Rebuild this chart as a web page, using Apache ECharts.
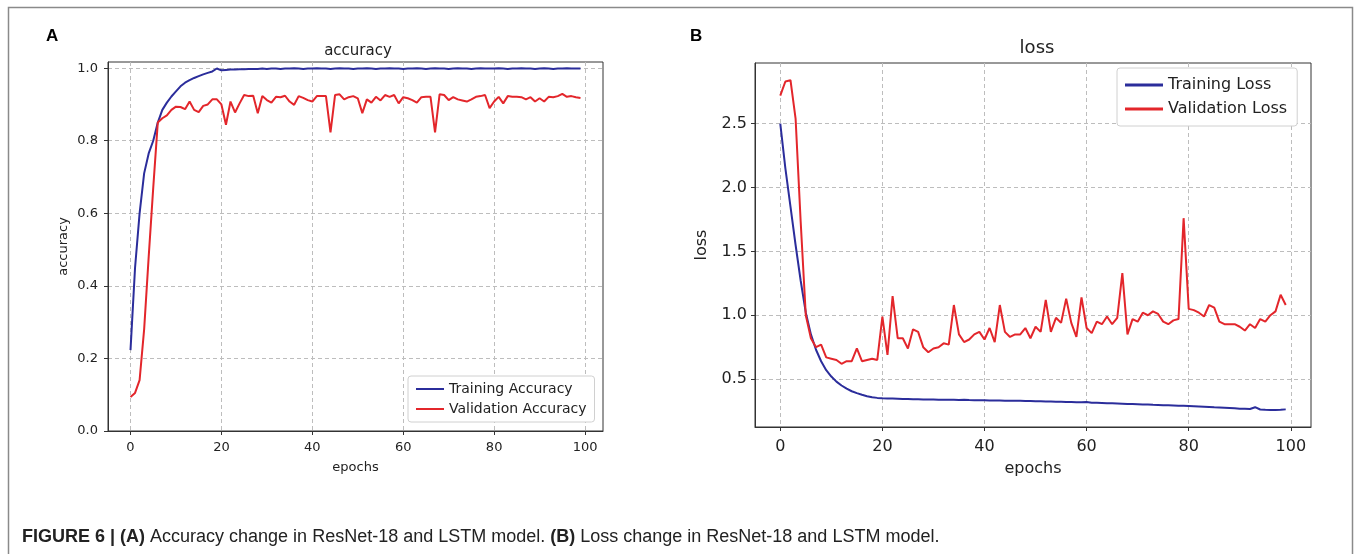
<!DOCTYPE html>
<html>
<head>
<meta charset="utf-8">
<script src="https://cdn.jsdelivr.net/npm/echarts@6/dist/echarts.min.js"></script>
<style>
  html, body { margin: 0; padding: 0; background: #fff; }
  #main { width: 1360px; height: 554px; }
</style>
</head>
<body>
<div id="main"></div>
<script>
// epochs 0..99
const epochs = Array.from({ length: 100 }, (_, i) => i);

const trainAcc = [
  0.223, 0.45, 0.60, 0.71, 0.765, 0.80, 0.85, 0.885, 0.905, 0.922,
  0.936, 0.95, 0.96, 0.967, 0.973, 0.978, 0.983, 0.987, 0.991, 0.999,
  0.994, 0.995, 0.996, 0.996, 0.997, 0.997, 0.998, 0.998, 0.998, 0.999,
  0.998, 0.999, 0.999, 0.998, 0.999, 0.999, 1.0, 0.999, 0.998, 0.999,
  0.999, 1.0, 0.999, 0.999, 0.998, 0.999, 1.0, 0.999, 0.999, 0.998,
  0.999, 0.999, 1.0, 0.999, 0.998, 0.999, 0.999, 1.0, 0.999, 0.999,
  0.998, 0.999, 0.999, 1.0, 0.999, 0.998, 0.999, 1.0, 0.999, 0.999,
  0.998, 0.999, 1.0, 0.999, 0.999, 0.998, 0.999, 1.0, 0.999, 0.999,
  0.999, 1.0, 0.999, 0.998, 0.999, 0.999, 1.0, 0.999, 0.999, 0.998,
  0.999, 1.0, 0.999, 0.998, 0.999, 0.999, 1.0, 0.999, 0.999, 0.999
];

const valAcc = [
  0.094, 0.105, 0.14, 0.28, 0.48, 0.67, 0.85, 0.862, 0.870, 0.885,
  0.894, 0.893, 0.887, 0.908, 0.885, 0.879, 0.896, 0.900, 0.914, 0.914,
  0.900, 0.844, 0.908, 0.878, 0.903, 0.926, 0.923, 0.924, 0.876, 0.923,
  0.912, 0.905, 0.921, 0.920, 0.924, 0.908, 0.899, 0.923, 0.918, 0.912,
  0.908, 0.923, 0.923, 0.923, 0.823, 0.926, 0.928, 0.914, 0.920, 0.923,
  0.917, 0.876, 0.914, 0.905, 0.921, 0.911, 0.926, 0.921, 0.926, 0.903,
  0.920, 0.917, 0.912, 0.905, 0.920, 0.921, 0.921, 0.823, 0.928, 0.926,
  0.912, 0.920, 0.914, 0.911, 0.908, 0.914, 0.921, 0.923, 0.926, 0.890,
  0.908, 0.921, 0.903, 0.923, 0.921, 0.921, 0.920, 0.914, 0.920, 0.908,
  0.917, 0.908, 0.921, 0.920, 0.923, 0.929, 0.921, 0.923, 0.920, 0.918
];

const trainLoss = [
  2.50, 2.15, 1.85, 1.55, 1.27, 1.02, 0.85, 0.73, 0.64, 0.57,
  0.52, 0.48, 0.45, 0.425, 0.405, 0.39, 0.377, 0.366, 0.358, 0.353,
  0.350, 0.349, 0.348, 0.347, 0.345, 0.344, 0.343, 0.342, 0.341, 0.341,
  0.340, 0.339, 0.338, 0.338, 0.339, 0.337, 0.338, 0.336, 0.335, 0.334,
  0.334, 0.333, 0.333, 0.332, 0.331, 0.331, 0.330, 0.330, 0.329, 0.328,
  0.327, 0.326, 0.325, 0.324, 0.323, 0.322, 0.321, 0.320, 0.319, 0.318,
  0.320, 0.315, 0.314, 0.313, 0.311, 0.310, 0.309, 0.308, 0.306, 0.305,
  0.304, 0.302, 0.301, 0.299, 0.298, 0.296, 0.295, 0.294, 0.292, 0.291,
  0.290, 0.288, 0.286, 0.284, 0.282, 0.279, 0.277, 0.275, 0.273, 0.271,
  0.268, 0.267, 0.266, 0.280, 0.262, 0.260, 0.259, 0.259, 0.260, 0.263
];

const valLoss = [
  2.72, 2.83, 2.84, 2.54, 1.73, 1.00, 0.82, 0.75, 0.77, 0.67,
  0.66, 0.65, 0.62, 0.64, 0.64, 0.74, 0.64, 0.65, 0.66, 0.65,
  0.99, 0.69, 1.15, 0.82, 0.82, 0.74, 0.89, 0.87, 0.75, 0.71,
  0.74, 0.75, 0.78, 0.77, 1.08, 0.85, 0.79, 0.81, 0.85, 0.87,
  0.81, 0.90, 0.79, 1.08, 0.87, 0.83, 0.85, 0.85, 0.90, 0.82,
  0.91, 0.87, 1.12, 0.87, 0.98, 0.94, 1.13, 0.94, 0.83, 1.14,
  0.90, 0.86, 0.95, 0.93, 0.99, 0.93, 0.98, 1.33, 0.85, 0.97,
  0.95, 1.02, 1.00, 1.03, 1.01, 0.95, 0.93, 0.96, 0.97, 1.76,
  1.05, 1.04, 1.02, 0.99, 1.08, 1.06, 0.95, 0.93, 0.93, 0.93,
  0.91, 0.88, 0.93, 0.90, 0.97, 0.95, 1.00, 1.03, 1.16, 1.08
];

const xTicks = [0, 20, 40, 60, 80, 100];
const accTicks = [0, 0.2, 0.4, 0.6, 0.8, 1.0];
const lossTicks = [0.5, 1.0, 1.5, 2.0, 2.5];

const BLUE = '#2b2d9b';
const RED = '#e3262b';
const FONT = 'DejaVu Sans';

const pairs = vals => epochs.map((e, i) => [e, vals[i]]);

function xAxis(gridIndex, size, margin, gap) {
  return {
    type: 'value', gridIndex: gridIndex, min: -4.95, max: 103.95,
    name: 'epochs', nameLocation: 'middle', nameGap: gap,
    nameTextStyle: { fontFamily: FONT, fontSize: size, color: '#222' },
    axisLine: { show: true, onZero: false, lineStyle: { color: '#333', width: 1 } },
    axisTick: { show: true, length: 4, customValues: xTicks, lineStyle: { color: '#333' } },
    axisLabel: { customValues: xTicks, margin: margin, fontFamily: FONT, fontSize: size, color: '#222' },
    splitLine: { show: true, lineStyle: { color: '#bdbdbd', type: [4, 3], width: 1 } }
  };
}

function yAxis(gridIndex, min, max, ticks, name, size, margin, gap) {
  return {
    type: 'value', gridIndex: gridIndex, min: min, max: max,
    name: name, nameLocation: 'middle', nameGap: gap,
    nameTextStyle: { fontFamily: FONT, fontSize: size, color: '#222' },
    axisLine: { show: true, onZero: false, lineStyle: { color: '#333', width: 1 } },
    axisTick: { show: true, length: 4, customValues: ticks, lineStyle: { color: '#333' } },
    axisLabel: { customValues: ticks, margin: margin, fontFamily: FONT, fontSize: size, color: '#222',
      formatter: v => v.toFixed(1) },
    splitLine: { show: true, lineStyle: { color: '#bdbdbd', type: [4, 3], width: 1 } }
  };
}

function line(name, data, color, xi, yi) {
  return {
    name: name, type: 'line', xAxisIndex: xi, yAxisIndex: yi,
    data: pairs(data), symbol: 'none', smooth: false,
    lineStyle: { color: color, width: 2 }, itemStyle: { color: color },
    animation: false
  };
}

const chart = echarts.init(document.getElementById('main'));
chart.setOption({
  animation: false,
  title: [
    { text: 'accuracy', left: 353, top: 39, textAlign: 'center',
      textStyle: { fontFamily: FONT, fontSize: 15, fontWeight: 'normal', color: '#222' } },
    { text: 'loss', left: 1032, top: 34, textAlign: 'center',
      textStyle: { fontFamily: FONT, fontSize: 18, fontWeight: 'normal', color: '#222' } }
  ],
  grid: [
    { left: 108, top: 62, width: 495, height: 369, show: true, borderColor: '#333', borderWidth: 1 },
    { left: 755, top: 63, width: 556, height: 364, show: true, borderColor: '#333', borderWidth: 1 }
  ],
  xAxis: [xAxis(0, 13, 10, 30), xAxis(1, 16, 12, 34)],
  yAxis: [
    yAxis(0, 0, 1.017, accTicks, 'accuracy', 13, 10, 38),
    yAxis(1, 0.125, 2.975, lossTicks, 'loss', 16, 8, 45)
  ],
  legend: [
    { data: ['Training Accuracy', 'Validation Accuracy'], orient: 'vertical',
      left: 408, top: 376, icon: 'rect', itemWidth: 28, itemHeight: 2, itemGap: 6,
      padding: [6, 8, 6, 8], borderColor: '#d0d0d0', borderWidth: 1, borderRadius: 3,
      backgroundColor: '#fff',
      textStyle: { fontFamily: FONT, fontSize: 14, color: '#222' } },
    { data: ['Training Loss', 'Validation Loss'], orient: 'vertical',
      left: 1117, top: 68, icon: 'rect', itemWidth: 38, itemHeight: 3, itemGap: 8,
      padding: [9, 10, 9, 8], borderColor: '#d0d0d0', borderWidth: 1, borderRadius: 3,
      backgroundColor: '#fff',
      textStyle: { fontFamily: FONT, fontSize: 16, color: '#222' } }
  ],
  series: [
    line('Training Accuracy', trainAcc, BLUE, 0, 0),
    line('Validation Accuracy', valAcc, RED, 0, 0),
    line('Training Loss', trainLoss, BLUE, 1, 1),
    line('Validation Loss', valLoss, RED, 1, 1)
  ],
  graphic: [
    { type: 'rect', shape: { x: 8.5, y: 7.5, width: 1344, height: 600 },
      style: { fill: 'none', stroke: '#8a8a8a', lineWidth: 1.5 }, silent: true, z: -1 },
    { type: 'text', left: 46, top: 28,
      style: { text: 'A', font: 'bold 17px "Liberation Sans"', fill: '#000' } },
    { type: 'text', left: 690, top: 28,
      style: { text: 'B', font: 'bold 17px "Liberation Sans"', fill: '#000' } },
    { type: 'text', left: 22, top: 528,
      style: {
        text: '{b|FIGURE 6 | (A)} Accuracy change in ResNet-18 and LSTM model. {b|(B)} Loss change in ResNet-18 and LSTM model.',
        font: '18px "Liberation Sans"', fill: '#222',
        rich: { b: { font: 'bold 18px "Liberation Sans"', fill: '#222' } }
      } }
  ]
});
</script>
</body>
</html>
